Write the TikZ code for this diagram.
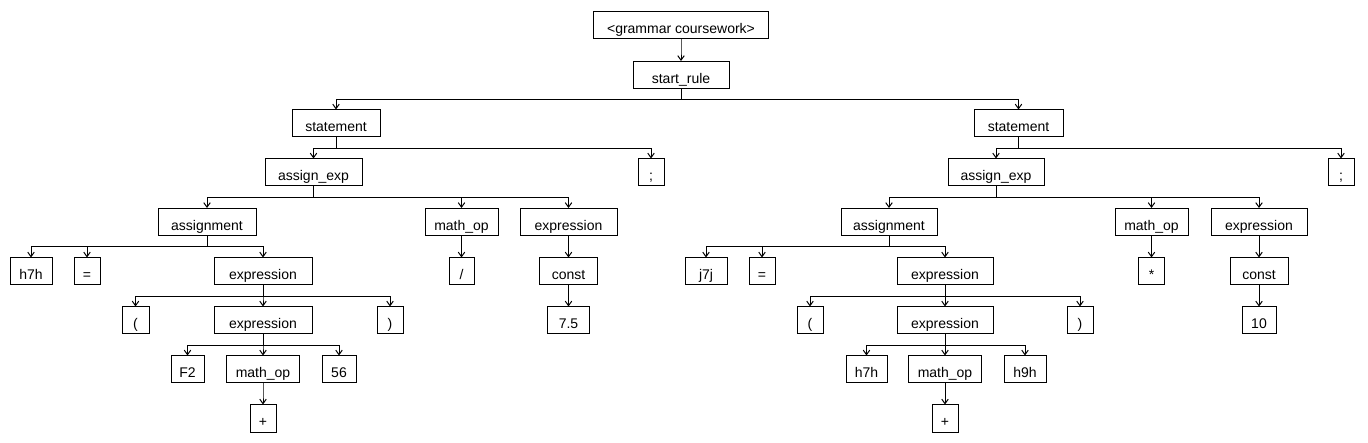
\documentclass[tikz,border=0pt]{standalone}
\usepackage{fontspec}
\setmainfont{Liberation Sans}
\usetikzlibrary{arrows.meta}
\tikzset{
  box/.style={draw=black, line width=1pt, minimum height=27pt, inner sep=0pt, font=\fontsize{14}{16}\selectfont, text height=16.5pt, text depth=0pt},
  conn/.style={draw=black, line width=1pt, -{Straight Barb[length=4.5pt,width=6.5pt]}}
}
\newcommand{\tn}[4]{\node[box, minimum width=#3pt] (#1) at (#2) {#4};}
\newcommand{\lk}[2]{\draw[conn] (#1.south) -- ++(0,11) -| (#2.north);}
\begin{document}
\begin{tikzpicture}[x=1pt,y=-1pt]
\useasboundingbox (0,0) rectangle (1368,443);
% rows
\tn{root}{681,25}{175}{<grammar coursework>}
\tn{start}{681,75}{96}{start\_rule}
\tn{stL}{336,123.5}{88}{statement}
\tn{stR}{1018.5,123.5}{89}{statement}
\tn{aeL}{313.5,172.5}{97}{assign\_exp}
\tn{semiL}{651,172.5}{26}{;}
\tn{aeR}{996,172.5}{96}{assign\_exp}
\tn{semiR}{1341,172.5}{26}{;}
\tn{asL}{207,222}{98}{assignment}
\tn{moL}{461.5,222}{73}{math\_op}
\tn{exL}{568.5,222}{97}{expression}
\tn{asR}{889,222}{96}{assignment}
\tn{moR}{1151.5,222}{73}{math\_op}
\tn{exR}{1259,222}{96}{expression}
% row 5
\tn{hL}{31,271.5}{42}{h7h}
\tn{eqL}{87,271.5}{26}{=}
\tn{expL}{263,271.5}{98}{expression}
\tn{slash}{461.5,271.5}{25}{/}
\tn{constL}{568.5,271.5}{58}{const}
\tn{jR}{706,271.5}{42}{j7j}
\tn{eqR}{762,271.5}{26}{=}
\tn{expR}{945,271.5}{96}{expression}
\tn{star}{1151.5,271.5}{26}{*}
\tn{constR}{1259,271.5}{58}{const}
% row 6
\tn{lpL}{135.5,320.5}{27}{(}
\tn{expiL}{263,320.5}{98}{expression}
\tn{rpL}{390,320.5}{26}{)}
\tn{svf}{568.5,320.5}{42}{7.5}
\tn{lpR}{810,320.5}{26}{(}
\tn{expiR}{945,320.5}{96}{expression}
\tn{rpR}{1080,320.5}{26}{)}
\tn{ten}{1259,320.5}{34}{10}
% row 7
\tn{ftwo}{187.5,369.5}{33}{F2}
\tn{moiL}{263,369.5}{73}{math\_op}
\tn{fsix}{339,369.5}{34}{56}
\tn{hsR}{866.5,369.5}{41}{h7h}
\tn{moiR}{945,369.5}{73}{math\_op}
\tn{hnR}{1025,369.5}{42}{h9h}
% row 8
\tn{plL}{263,418.5}{26}{+}
\tn{plR}{945,418.5}{26}{+}
% links
\lk{root}{start}
\lk{start}{stL}\lk{start}{stR}
\lk{stL}{aeL}\lk{stL}{semiL}
\lk{stR}{aeR}\lk{stR}{semiR}
\lk{aeL}{asL}\lk{aeL}{moL}\lk{aeL}{exL}
\lk{aeR}{asR}\lk{aeR}{moR}\lk{aeR}{exR}
\lk{asL}{hL}\lk{asL}{eqL}\lk{asL}{expL}
\lk{asR}{jR}\lk{asR}{eqR}\lk{asR}{expR}
\lk{moL}{slash}\lk{exL}{constL}\lk{constL}{svf}
\lk{moR}{star}\lk{exR}{constR}\lk{constR}{ten}
\lk{expL}{lpL}\lk{expL}{expiL}\lk{expL}{rpL}
\lk{expR}{lpR}\lk{expR}{expiR}\lk{expR}{rpR}
\lk{expiL}{ftwo}\lk{expiL}{moiL}\lk{expiL}{fsix}
\lk{expiR}{hsR}\lk{expiR}{moiR}\lk{expiR}{hnR}
\lk{moiL}{plL}\lk{moiR}{plR}
\end{tikzpicture}
\end{document}
